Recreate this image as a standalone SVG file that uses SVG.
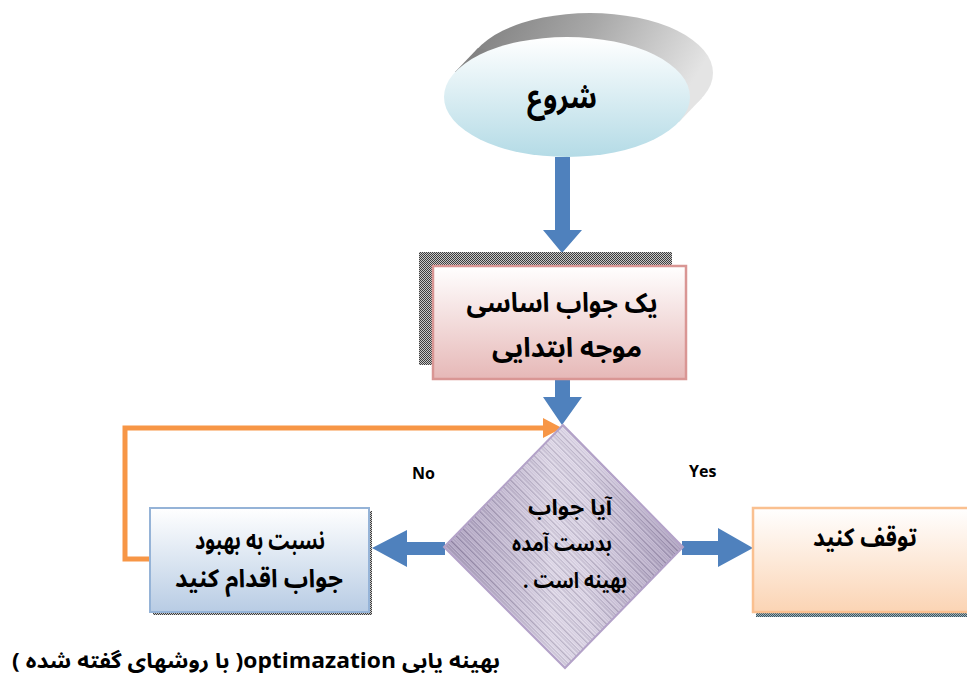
<svg xmlns="http://www.w3.org/2000/svg" width="967" height="679" viewBox="0 0 967 679">
  <style>
    .fa { font-family: "Noto Sans Arabic", "Noto Naskh Arabic", "DejaVu Sans", sans-serif; font-weight: bold; fill: #000; direction: rtl; unicode-bidi: embed; text-anchor: middle; }
    .en { font-family: "Open Sans", "Liberation Sans", sans-serif; font-weight: bold; font-size: 16px; fill: #000; }
    .blue { fill: #4f81bd; }
    .loop { fill: none; stroke: #f79646; stroke-width: 5; stroke-linejoin: miter; }
  </style>
  <defs>
    <linearGradient id="gStart" x1="0" y1="0" x2="0" y2="1">
      <stop offset="0" stop-color="#ffffff"/>
      <stop offset="1" stop-color="#b4dbe6"/>
    </linearGradient>
    <linearGradient id="gStartSide" x1="0" y1="0" x2="1" y2="0.3">
      <stop offset="0" stop-color="#7a7a7a"/>
      <stop offset="0.5" stop-color="#a8a8a8"/>
      <stop offset="1" stop-color="#e4e4e4"/>
    </linearGradient>
    <linearGradient id="gPink" x1="0" y1="0" x2="0" y2="1">
      <stop offset="0" stop-color="#ffffff"/>
      <stop offset="1" stop-color="#e6b8b7"/>
    </linearGradient>
    <linearGradient id="gBlue" x1="0" y1="0" x2="0" y2="1">
      <stop offset="0" stop-color="#ffffff"/>
      <stop offset="1" stop-color="#b8cce4"/>
    </linearGradient>
    <linearGradient id="gPeach" x1="0" y1="0" x2="0" y2="1">
      <stop offset="0" stop-color="#ffffff"/>
      <stop offset="1" stop-color="#fbd4b4"/>
    </linearGradient>
    <linearGradient id="gDiamondSheen" x1="0" y1="0" x2="1" y2="0">
      <stop offset="0" stop-color="#6f5f88" stop-opacity="0.25"/>
      <stop offset="0.45" stop-color="#ffffff" stop-opacity="0.35"/>
      <stop offset="0.6" stop-color="#ffffff" stop-opacity="0.3"/>
      <stop offset="1" stop-color="#6f5f88" stop-opacity="0.25"/>
    </linearGradient>
    <!-- streaked texture for the decision shape -->
    <pattern id="pStreak" patternUnits="userSpaceOnUse" width="17" height="17" patternTransform="rotate(-45)">
      <rect width="17" height="17" fill="#d6cde2"/>
      <rect x="0" width="1" height="17" fill="#9a8fae"/>
      <rect x="2.5" width="0.8" height="17" fill="#b5aac6"/>
      <rect x="4" width="1.2" height="17" fill="#8c809f"/>
      <rect x="7" width="0.7" height="17" fill="#a99dbc"/>
      <rect x="9" width="1" height="17" fill="#c2b8d1"/>
      <rect x="11" width="1.3" height="17" fill="#958aa9"/>
      <rect x="14" width="0.8" height="17" fill="#b0a5c2"/>
      <rect x="15.5" width="0.6" height="17" fill="#8a7e9d"/>
    </pattern>
    <!-- dithered shadows -->
    <pattern id="pDitherGray" patternUnits="userSpaceOnUse" width="2" height="2">
      <rect width="2" height="2" fill="#c8c8c8"/>
      <rect width="1" height="1" fill="#3c3c3c"/>
      <rect x="1" y="1" width="1" height="1" fill="#3c3c3c"/>
    </pattern>
    <pattern id="pDitherTeal" patternUnits="userSpaceOnUse" width="2" height="2">
      <rect width="2" height="2" fill="#9fb4bd"/>
      <rect width="1" height="1" fill="#3d5560"/>
      <rect x="1" y="1" width="1" height="1" fill="#3d5560"/>
    </pattern>
  </defs>

  <rect width="967" height="679" fill="#ffffff"/>

  <!-- connectors -->
  <g id="connectors">
    <polygon class="blue" points="555,157 570,157 570,230 582,230 562,253 543,230 555,230"/>
    <polygon class="blue" points="555,379 570,379 570,397 582,397 562,425 543,397 555,397"/>
    <polygon class="blue" points="445,542 407,542 407,530 372,548 407,567 407,555 445,555"/>
    <polygon class="blue" points="682,541 718,541 718,528 753,548 718,567 718,555 682,555"/>
    <path class="loop" d="M151,559 H125 V428 H545"/>
    <polygon fill="#f79646" points="543,418 562,428 543,438"/>
  </g>

  <!-- start terminal -->
  <g id="start">
    <ellipse cx="590" cy="73" rx="123" ry="60" fill="url(#gStartSide)"/>
    <path d="M455,72 L478,48 L702,98 L679,122 Z" fill="url(#gStartSide)"/>
    <ellipse cx="567" cy="97" rx="123" ry="60" fill="url(#gStart)"/>
    <text class="fa" x="562" y="108" font-size="32" textLength="70" lengthAdjust="spacingAndGlyphs">شروع</text>
  </g>

  <!-- initial feasible solution -->
  <g id="initial">
    <rect x="419" y="252" width="253" height="113" fill="url(#pDitherGray)"/>
    <rect x="433" y="266" width="253" height="113" fill="url(#gPink)" stroke="#d99694" stroke-width="2.5"/>
    <text class="fa" x="562" y="312" font-size="27" textLength="191" lengthAdjust="spacingAndGlyphs">یک جواب اساسی</text>
    <text class="fa" x="567" y="357" font-size="27" textLength="150" lengthAdjust="spacingAndGlyphs">موجه ابتدایی</text>
  </g>

  <!-- decision -->
  <g id="decision">
    <polygon points="563,425 683,547 565,668 444,547" fill="url(#pStreak)"/>
    <polygon points="563,425 683,547 565,668 444,547" fill="url(#gDiamondSheen)" stroke="#b3a2c8" stroke-width="2"/>
    <text class="fa" x="570" y="515" font-size="22" textLength="84" lengthAdjust="spacingAndGlyphs">آیا جواب</text>
    <text class="fa" x="562" y="551" font-size="22" textLength="100" lengthAdjust="spacingAndGlyphs">بدست آمده</text>
    <text class="fa" x="575" y="588" font-size="22" textLength="104" lengthAdjust="spacingAndGlyphs">بهینه است .</text>
  </g>

  <!-- improve step -->
  <g id="improve">
    <rect x="153" y="511" width="219" height="104" fill="url(#pDitherGray)"/>
    <rect x="150" y="508" width="219" height="104" fill="url(#gBlue)" stroke="#95b3d7" stroke-width="2"/>
    <text class="fa" x="260" y="549" font-size="25" textLength="130" lengthAdjust="spacingAndGlyphs">نسبت به بهبود</text>
    <text class="fa" x="259" y="587" font-size="25" textLength="168" lengthAdjust="spacingAndGlyphs">جواب اقدام کنید</text>
  </g>

  <!-- stop -->
  <g id="stop">
    <rect x="756" y="511" width="230" height="106" fill="url(#pDitherTeal)"/>
    <rect x="753" y="508" width="230" height="104" fill="url(#gPeach)" stroke="#fac090" stroke-width="2.5"/>
    <text class="fa" x="865" y="546" font-size="25" textLength="104" lengthAdjust="spacingAndGlyphs">توقف کنید</text>
  </g>

  <!-- branch labels -->
  <g id="labels">
    <text class="en" x="412" y="479">No</text>
    <text class="en" x="689" y="477">Yes</text>
  </g>

  <!-- caption -->
  <g id="caption">
    <text class="fa" x="256" y="668" font-size="21" textLength="488" lengthAdjust="spacingAndGlyphs">بهینه یابی  optimazation( با روشهای گفته شده )</text>
  </g>
</svg>
